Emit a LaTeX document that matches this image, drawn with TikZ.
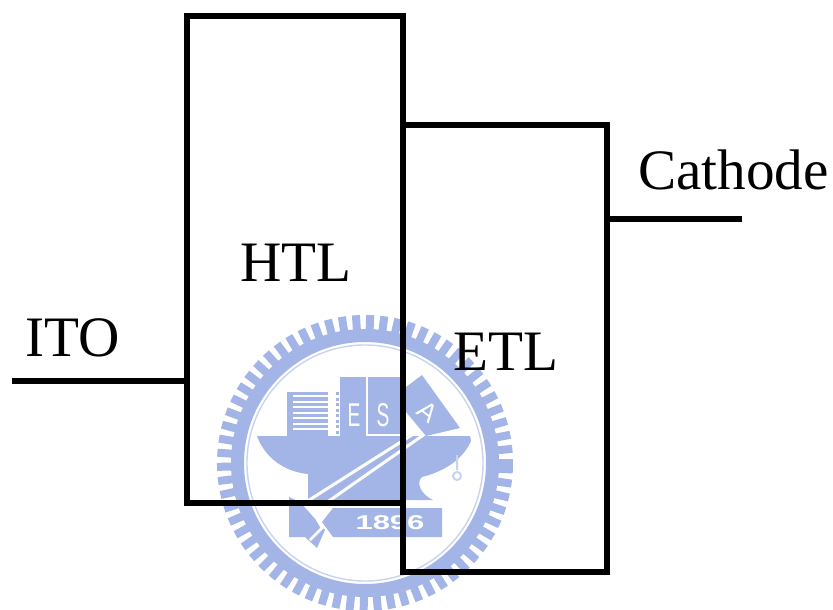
\documentclass[tikz,border=0pt]{standalone}
\usepackage{fontspec}
\setmainfont{Liberation Serif}
\newfontfamily\wmfont{Liberation Sans}
\definecolor{wm}{HTML}{A3B5E6}
\definecolor{wmpale}{HTML}{C8D3EF}
\tikzset{x=1pt,y=-1pt,
  wire/.style={line width=5.6pt,black},
  layerbox/.style={draw=black,line width=5.6pt,fill=none,minimum width=#1,inner sep=0pt,outer sep=0pt},
  lab/.style={font=\fontsize{57.2}{60}\selectfont,inner sep=0pt,anchor=base west,text=black},
  wmfill/.style={fill=wm,draw=none},
  wmtxt/.style={text=white,inner sep=0pt}}
\begin{document}
\begin{tikzpicture}
\useasboundingbox (0,0) rectangle (833,610);
% watermark: toothed ring
\foreach \a in {0,5.5,...,359}
  \draw[wm,line width=8pt] (365,463) ++(\a:128pt) -- ++(\a:20pt);
\draw[wm,line width=13pt] (365,463) circle[radius=127.5pt];
\draw[wmpale,line width=1.4pt] (365,463) circle[radius=118pt];
% hull
\path[wmfill] (257,436) -- (470,436) -- (471,441) .. controls (465,455) and (450,470) .. (422,477)
  .. controls (416,482) and (420,494) .. (433,500) -- (308,500) -- (308,474)
  .. controls (285,472) and (265,458) .. (257,436) -- cycle;
% stacks
\path[wmfill] (287,392) rectangle (328,436);
\foreach \y in {396,401.5,407,412.5,418,423.5,429}
  \draw[white,line width=2pt] (293,\y) -- (328,\y);
\draw[wm,line width=3pt,dash pattern=on 3pt off 2.5pt] (337,392) -- (337,436);
\path[wmfill] (340,377) rectangle (366,436);
\path[wmfill] (368,377) rectangle (400,434);
\path[wmfill] (406,387) -- (422,375) -- (460,428) -- (426,436) -- (406,412) -- cycle;
\node[wmtxt,font=\wmfont\fontsize{33}{33}\selectfont,xscale=.58] (wmE) at (354,415) {\textcolor{white}{E}};
\node[wmtxt,font=\wmfont\fontsize{33}{33}\selectfont,xscale=.58] (wmS) at (383,415) {\textcolor{white}{S}};
\node[wmtxt,font=\wmfont\fontsize{26}{26}\selectfont,rotate=-38] (wmA) at (428,412) {\textcolor{white}{A}};
% pen
\draw[white,line width=3pt] (303,504) -- (418,431) -- (422,436) -- (316,510);
\path[wmfill] (289,497) -- (300,502) -- (325,530) -- (317,548) -- (305,537) -- (289,537) -- cycle;
\draw[white,line width=2.5pt] (313,512) -- (322,528) -- (310,540);
% plate 1896
\path[wmfill] (333,508) -- (442,508) -- (442,537) -- (333,537) -- (322,522) -- cycle;
\node[wmtxt,font=\wmfont\bfseries\fontsize{20}{20}\selectfont,xscale=1.55] (wmY) at (390,523) {\textcolor{white}{1896}};
% hook
\draw[wmpale,line width=2pt] (457,455) -- (457,470) (457,476) circle[radius=4pt];
% main boxes
\node[layerbox=216pt,minimum height=487pt] (htl) at (295,259.5) {};
\node[layerbox=204pt,minimum height=447pt] (etl) at (505,348.5) {};
\coordinate (itoend) at (12,381);
\coordinate (catend) at (742,219);
\draw[wire] (itoend) -- (itoend -| htl.west);
\draw[wire] (catend -| etl.east) -- (catend);
\node[lab] (hl) at (240,281) {HTL};
\node[lab] (el) at (453,370) {ETL};
\node[lab] (il) at (25,356) {ITO};
\node[lab] (cl) at (638,189) {Cathode};
\end{tikzpicture}
\end{document}
